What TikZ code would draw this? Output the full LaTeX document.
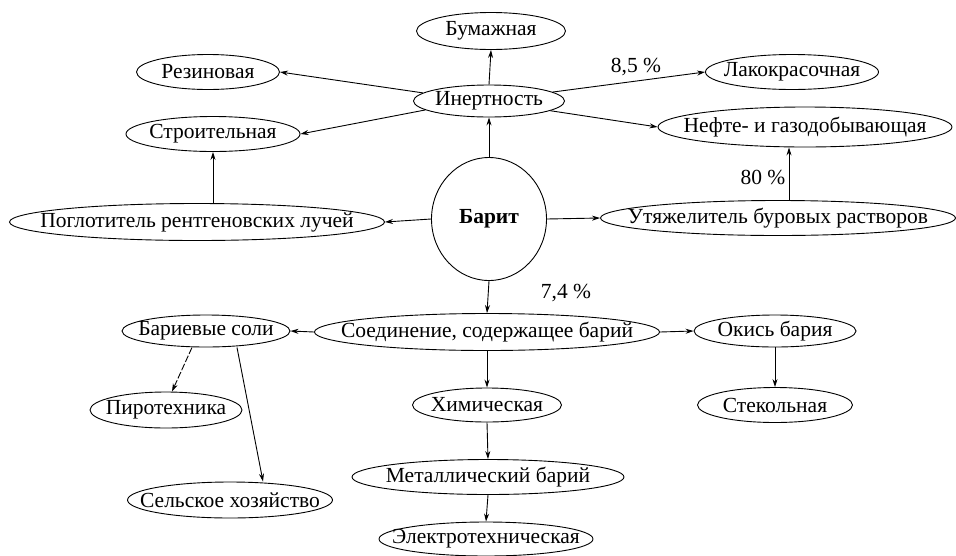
\documentclass[tikz,border=0pt]{standalone}
\usepackage{fontspec}
\setmainfont{Liberation Serif}
\usetikzlibrary{shapes.geometric,arrows.meta}
\begin{document}
\begin{tikzpicture}[x=1pt, y=-1pt, line width=0.9pt, >={Stealth[length=8pt,width=5pt]},
    sphere/.style={ellipse, draw, inner xsep=-100pt, inner ysep=-20pt, minimum height=35pt, font=\fontsize{21.5}{25}\selectfont},
    share/.style={font=\fontsize{21.5}{25}\selectfont}]
      \useasboundingbox (0,0) rectangle (956,555);
      \node (bum) at (491,31) [sphere, minimum width=149pt, minimum height=37pt] {Бумажная};
      \node (rez) at (208,72) [sphere, minimum width=143pt] {Резиновая};
      \node (inert) at (489,101) [sphere, minimum width=151pt, minimum height=32pt] {Инертность};
      \node (lak) at (792,72) [sphere, minimum width=173pt] {Лакокрасочная};
      \node (stroy) at (213,134) [sphere, minimum width=174pt] {Строительная};
      \node (neft) at (805,127) [sphere, minimum width=294pt, minimum height=40pt] {Нефте- и газодобывающая};
      \node (barit) at (489,219) [sphere, minimum width=115pt, minimum height=123pt, font=\fontsize{21.5}{25}\selectfont\bfseries] {Барит};
      \node (pogl) at (197,222) [sphere, minimum width=375pt, minimum height=37pt] {Поглотитель рентгеновских лучей};
      \node (utyazh) at (778,218) [sphere, minimum width=355pt] {Утяжелитель буровых растворов};
      \node (soed) at (487,332) [sphere, minimum width=345pt, minimum height=37pt] {Соединение, содержащее барий};
      \node (sol) at (206,331) [sphere, minimum width=168pt, minimum height=32pt] {Бариевые соли};
      \node (okis) at (775,331) [sphere, minimum width=162pt, minimum height=32pt] {Окись бария};
      \node (piro) at (166,410) [sphere, minimum width=152pt, minimum height=36pt] {Пиротехника};
      \node (khim) at (487,405) [sphere, minimum width=149pt, minimum height=34pt] {Химическая};
      \node (stek) at (775,405) [sphere, minimum width=155pt] {Стекольная};
      \node (met) at (488,477) [sphere, minimum width=272pt] {Металлический барий};
      \node (selsk) at (230,500) [sphere, minimum width=205pt, minimum height=36pt] {Сельское хозяйство};
      \node (elek) at (486,539) [sphere, minimum width=214pt, minimum height=34pt] {Электротехническая};
      % shares
      \node (p85) at (636,67) [share] {8,5 \%};
      \node (p80) at (763,177) [share] {80 \%};
      \node (p74) at (566,293) [share] {7,4 \%};
      \foreach \source/\dest in {inert.north/bum.south, inert.173/rez.east, inert.188/stroy.east,
          inert.8/lak.west, inert.-9/neft.west, barit.north/inert.south, barit.west/pogl.east,
          barit.east/utyazh.west, barit.south/soed.north, soed.west/sol.east, soed.east/okis.west,
          soed.south/khim.north, khim.south/met.north, met.south/elek.north, okis.south/stek.north}
        \path[->] (\source) edge (\dest);
      \draw[->] (stroy.south |- pogl.north) -- (stroy.south);
      \draw[->] ([xshift=11pt]utyazh.north) -- ([xshift=-16pt]neft.south);
      \draw[->, dash pattern=on 7pt off 2pt] ([xshift=-14pt]sol.south) -- ([xshift=6pt]piro.north);
      \draw[->] ([xshift=31pt]sol.south) -- ([xshift=33pt]selsk.north);
    \end{tikzpicture}
\end{document}
